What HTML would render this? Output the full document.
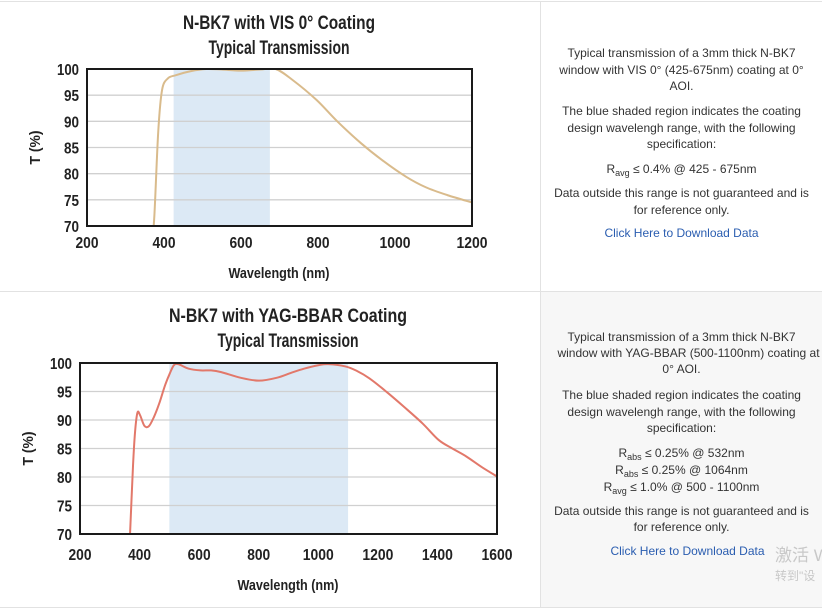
<!DOCTYPE html>
<html><head><meta charset="utf-8">
<style>
body{margin:0;width:822px;height:610px;overflow:hidden;background:#fff;font-family:"Liberation Sans","Noto Sans CJK SC",sans-serif;position:relative}
.p{position:absolute;left:541px;width:281px;text-align:center;font-size:12px;color:#333;line-height:16.5px}
.p div{position:absolute;left:0;width:281px;white-space:nowrap}
a{color:#2a5db0;text-decoration:none}
sub{font-size:9px;vertical-align:-3px;line-height:0}
</style></head><body>
<div style="position:absolute;left:0;top:1px;width:822px;height:1px;background:#e2e2e2"></div>
<div style="position:absolute;left:0;top:291px;width:822px;height:1px;background:#e2e2e2"></div>
<div style="position:absolute;left:0;top:607px;width:822px;height:1px;background:#e2e2e2"></div>
<div style="position:absolute;left:541px;top:292px;width:281px;height:315px;background:#f7f7f7"></div>
<div style="position:absolute;left:540px;top:2px;width:1px;height:605px;background:#e2e2e2"></div>

<div class="p" style="top:0">
<div style="top:45px">Typical transmission of a 3mm thick N-BK7</div>
<div style="top:62px">window with VIS 0° (425-675nm) coating at 0°</div>
<div style="top:78px">AOI.</div>
<div style="top:103px">The blue shaded region indicates the coating</div>
<div style="top:120px">design wavelengh range, with the following</div>
<div style="top:136px">specification:</div>
<div style="top:161px">R<sub>avg</sub> ≤ 0.4% @ 425 - 675nm</div>
<div style="top:185px">Data outside this range is not guaranteed and is</div>
<div style="top:202px">for reference only.</div>
<div style="top:225px"><a>Click Here to Download Data</a></div>
</div>
<div class="p" style="top:0">
<div style="top:329px">Typical transmission of a 3mm thick N-BK7</div>
<div style="top:345px;left:7px">window with YAG-BBAR (500-1100nm) coating at</div>
<div style="top:361px">0° AOI.</div>
<div style="top:387px">The blue shaded region indicates the coating</div>
<div style="top:404px">design wavelengh range, with the following</div>
<div style="top:420px">specification:</div>
<div style="top:445px">R<sub>abs</sub> ≤ 0.25% @ 532nm</div>
<div style="top:462px">R<sub>abs</sub> ≤ 0.25% @ 1064nm</div>
<div style="top:479px">R<sub>avg</sub> ≤ 1.0% @ 500 - 1100nm</div>
<div style="top:503px">Data outside this range is not guaranteed and is</div>
<div style="top:519px">for reference only.</div>
<div style="top:543px;left:6px"><a>Click Here to Download Data</a></div>
</div>
<div style="position:absolute;left:775px;top:541px;font-size:17px;color:#c8c8c8;white-space:nowrap">激活 W</div>
<div style="position:absolute;left:775px;top:567px;font-size:12px;color:#c8c8c8;white-space:nowrap">转到"设</div>

<svg id="s" width="822" height="610" style="position:absolute;left:0;top:0" xmlns="http://www.w3.org/2000/svg"></svg>
<script>
var s=document.getElementById('s'),h='';
function T(x,y,t,sz,w,anchor,extra){h+='<text x="'+x+'" y="'+y+'" font-family="Liberation Sans,sans-serif" font-weight="bold" font-size="'+sz+'" fill="#222" text-anchor="'+(anchor||'middle')+'" textLength="'+w+'" lengthAdjust="spacingAndGlyphs" '+(extra||'')+'>'+t+'</text>';}
function chart(c){
 var X=function(v){return c.x0+(v-c.xmin)/(c.xmax-c.xmin)*(c.x1-c.x0)};
 var Y=function(v){return c.y1-(v-70)/30*(c.y1-c.y0)};
 h+='<rect x="'+X(c.s0)+'" y="'+c.y0+'" width="'+(X(c.s1)-X(c.s0))+'" height="'+(c.y1-c.y0)+'" fill="#dce9f5"/>';
 for(var v=75;v<100;v+=5)h+='<line x1="'+c.x0+'" x2="'+c.x1+'" y1="'+Y(v)+'" y2="'+Y(v)+'" stroke="#d0d0d0" stroke-width="1.3"/>';
 var p=c.pts.map(function(q){return [X(q[0]),Y(q[1])]}),d='M'+p[0];
 for(var i=0;i<p.length-1;i++){var a=p[i-1]||p[i],b=p[i],e=p[i+1],f=p[i+2]||e;
  d+=' C'+(b[0]+(e[0]-a[0])/6)+','+(b[1]+(e[1]-a[1])/6)+' '+(e[0]-(f[0]-b[0])/6)+','+(e[1]-(f[1]-b[1])/6)+' '+e;}
 h+='<clipPath id="c'+c.id+'"><rect x="'+c.x0+'" y="'+(c.y0-1)+'" width="'+(c.x1-c.x0)+'" height="'+(c.y1-c.y0+1)+'"/></clipPath>';
 h+='<path d="'+d+'" fill="none" stroke="'+c.col+'" stroke-width="2" clip-path="url(#c'+c.id+')"/>';
 h+='<rect x="'+c.x0+'" y="'+c.y0+'" width="'+(c.x1-c.x0)+'" height="'+(c.y1-c.y0)+'" fill="none" stroke="#1a1a1a" stroke-width="2"/>';
 for(v=70;v<=100;v+=5)T(c.x0-8,Y(v)+6,v,16,v==100?22:15,'end');
 for(v=c.xmin;v<=c.xmax;v+=200)T(X(v),c.xl,v,16,v>=1000?31:23);
 T(c.cx,c.t1,c.title,19,c.tw);T(c.cx,c.t1+25,'Typical Transmission',19,141);
 T(c.cx,c.xl+30,'Wavelength (nm)',15,101);
 h+='<text x="0" y="0" font-family="Liberation Sans,sans-serif" font-weight="bold" font-size="15" fill="#222" text-anchor="middle" textLength="34" lengthAdjust="spacingAndGlyphs" transform="translate('+c.tx+','+(c.y0+c.y1)/2+') rotate(-90)">T (%)</text>';
}
chart({id:1,x0:87,x1:472,y0:69,y1:226,xmin:200,xmax:1200,s0:425,s1:675,col:'#d9bb8c',xl:248,cx:279,t1:29,title:'N-BK7 with VIS 0° Coating',tw:192,tx:40,
pts:[[368,66],[375,72],[385,88],[395,96],[410,98.2],[430,98.8],[470,99.6],[510,100],[550,99.9],[600,99.7],[650,99.9],[690,100],[734,97.9],[796,94.1],[850,90],[912,85.8],[970,82.4],[1029,79.4],[1080,77.4],[1136,75.9],[1200,74.5]]});
chart({id:2,x0:80,x1:497,y0:363,y1:534,xmin:200,xmax:1600,s0:500,s1:1100,col:'#e2786a',xl:560,cx:288,t1:322,title:'N-BK7 with YAG-BBAR Coating',tw:238,tx:33,
pts:[[364,66],[368,70],[378,82],[385,88],[393,91.3],[402,90.8],[416,89],[431,88.9],[448,90.5],[466,92.9],[485,96],[501,98.1],[515,99.6],[530,99.8],[565,99],[605,98.7],[640,98.7],[674,98.4],[740,97.4],[801,96.9],[860,97.4],[910,98.3],[952,99],[1000,99.6],[1033,99.8],[1091,99.4],[1130,98.6],[1172,97.3],[1230,94.9],[1288,92.3],[1350,89.4],[1404,86.5],[1450,85],[1497,83.6],[1550,81.7],[1600,80.1]]});
s.innerHTML=h;
</script>
</body></html>
